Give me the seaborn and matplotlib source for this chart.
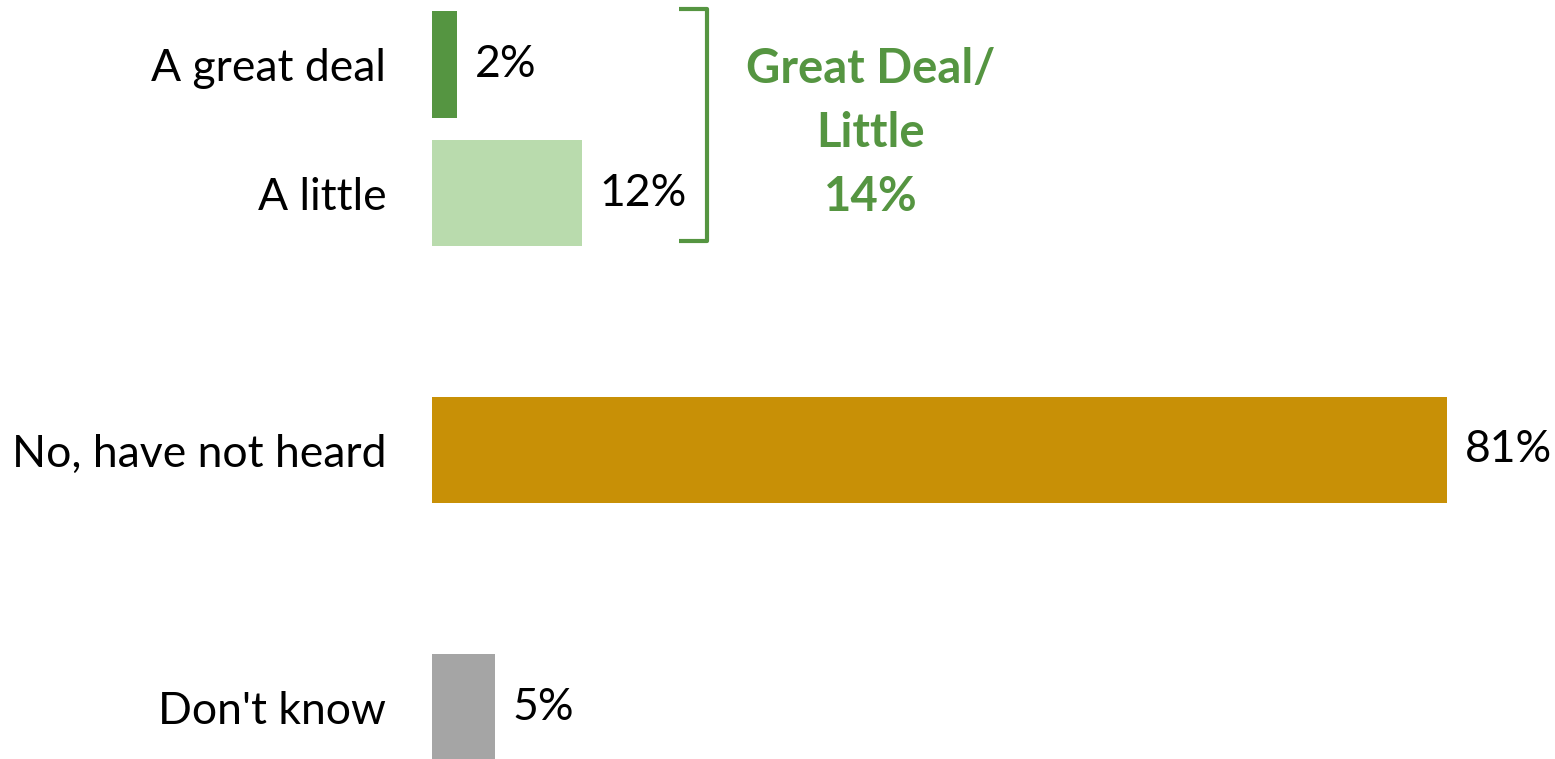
import matplotlib
matplotlib.use("Agg")
import matplotlib.pyplot as plt
import seaborn as sns
import pandas as pd

categories = ["A great deal", "A little", "No, have not heard", "Don't know"]
values = [2, 12, 81, 5]
value_labels = ["2%", "12%", "81%", "5%"]
colors = ["#559541", "#b9dbad", "#c89006", "#a5a5a5"]
order = ["A great deal", "A little", " ", "No, have not heard", "  ", "Don't know"]
group_text = "Great Deal/\nLittle\n14%"
green = "#559541"

sns.set_theme(style="white")
plt.rcParams['font.family'] = ['Lato', 'DejaVu Sans']

df = pd.DataFrame({"cat": categories, "val": values})

fig = plt.figure(figsize=(15.55, 7.59), dpi=100)
px_per_unit = 12.53
x0 = 432
ax = fig.add_axes([x0 / 1555, 0, 1 - x0 / 1555, 1])

sns.barplot(data=df, y="cat", x="val", hue="cat", order=order,
            hue_order=categories, palette=colors, width=0.83,
            legend=False, ax=ax, saturation=1, orient="h", linewidth=0)

ax.set_xlim(0, (1555 - x0) / px_per_unit)
ax.set_ylim((759 - 64.5) / 128.5, -64.5 / 128.5)
ax.set_xlabel("")
ax.set_ylabel("")
ax.set_xticks([])
for s in ax.spines.values():
    s.set_visible(False)
ax.tick_params(axis="y", length=0, pad=33, labelsize=32, labelcolor="black")

pos = {c: order.index(c) for c in categories}
for c, v, lab in zip(categories, values, value_labels):
    ax.text(v + 1.4, pos[c], lab, va="center", ha="left", fontsize=32, color="black")

# bracket
bx = 21.95
bx_in = 19.7
ytop = -0.43
ybot = 1.375
ax.plot([bx_in, bx, bx, bx_in], [ytop, ytop, ybot, ybot], color=green, lw=3,
        solid_joinstyle="round", solid_capstyle="butt", clip_on=False)

ax.text((871 - x0) / px_per_unit, (133 - 64.5) / 128.5, group_text, ha="center",
        va="center", fontsize=34, fontweight="bold", color=green, linespacing=1.55)

fig.savefig("out.png", dpi=100)
